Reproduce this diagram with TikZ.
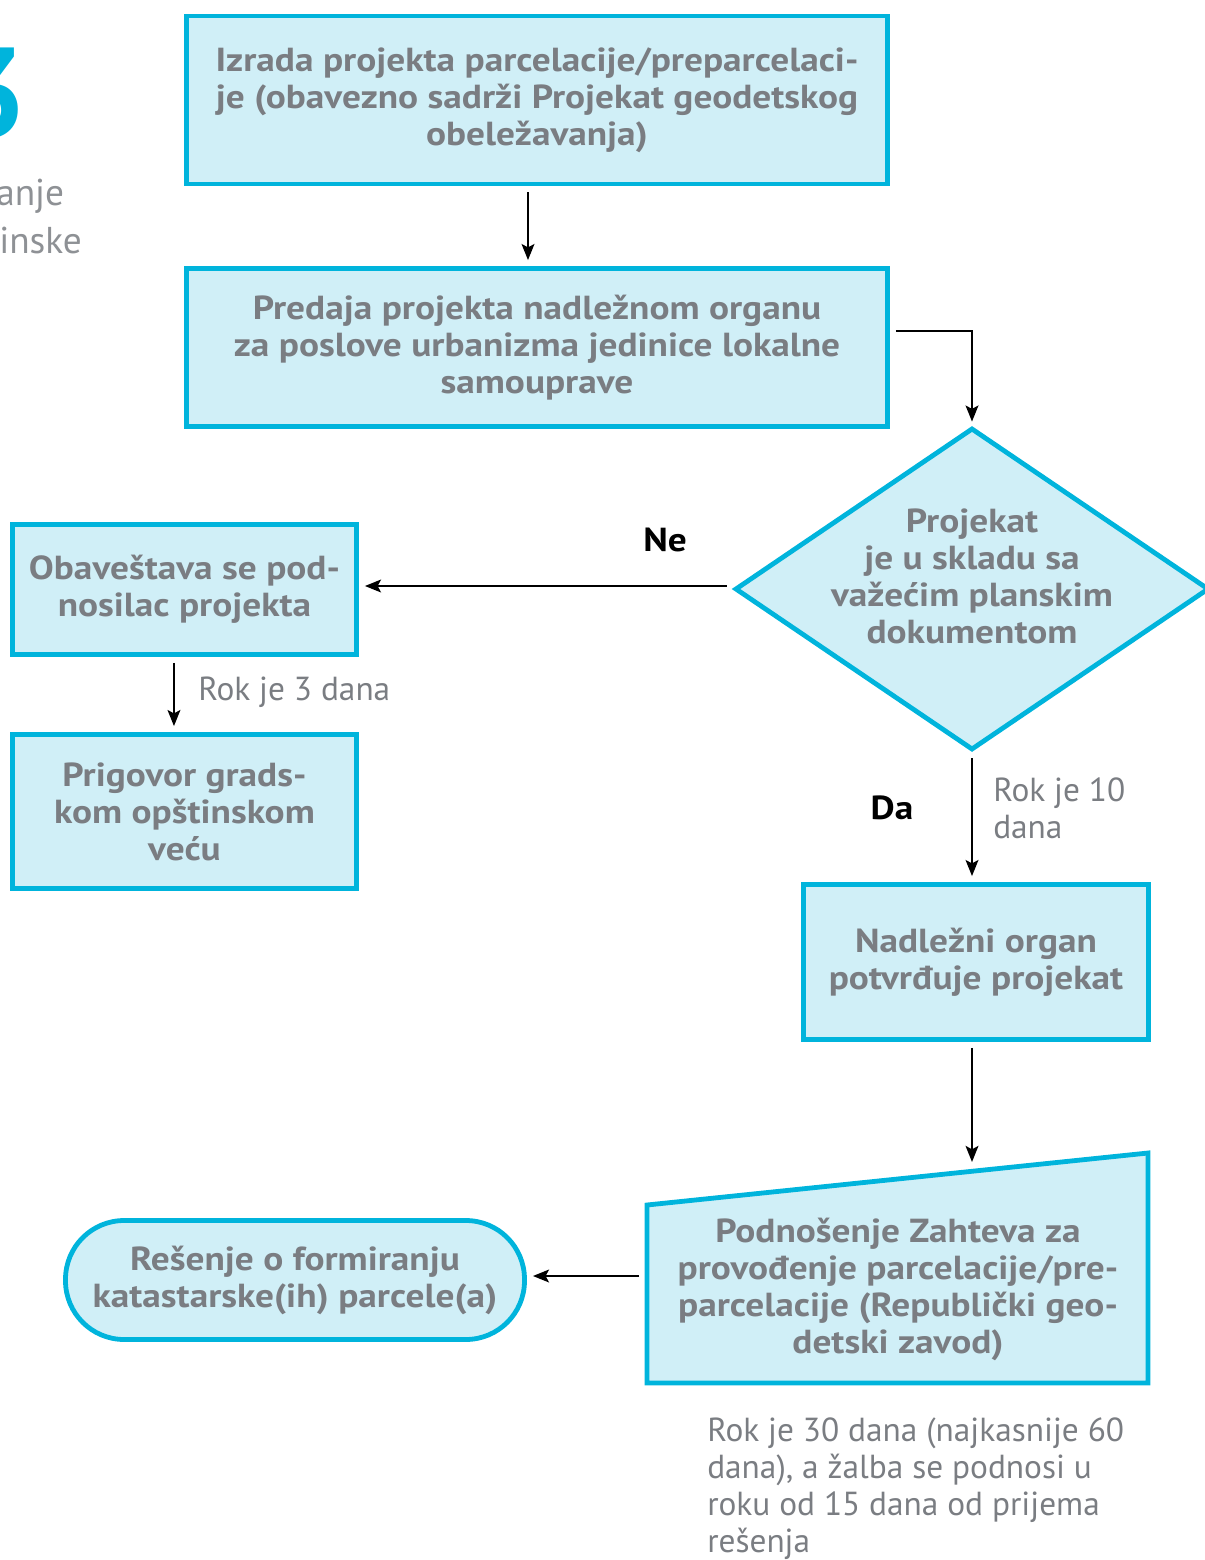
\documentclass[tikz,border=0pt]{standalone}
\usepackage{fontspec}
\setmainfont{PT Sans}
\newfontfamily\widesans{PT Sans}[FakeStretch=1.12]
\usetikzlibrary{shapes.geometric,arrows.meta}
\definecolor{flowcyan}{HTML}{00B4DC}
\definecolor{flowfill}{HTML}{D0EFF7}
\definecolor{flowtext}{HTML}{7A7D82}
\newcommand\boxfont{\widesans\bfseries\fontsize{25}{27.75}\selectfont}
\newcommand\notefont{\fontsize{25}{27.75}\selectfont}

\begin{document}
\begin{tikzpicture}[x=0.75pt,y=-0.75pt,
  every node/.style={inner sep=0pt},
  box/.style={draw=flowcyan, fill=flowfill, line width=3.6pt, text=flowtext,
    font=\boxfont, align=center},
  boxtext/.style={text=flowtext, font=\boxfont, align=center},
  note/.style={text=flowtext, font=\notefont, align=left},
  answer/.style={text=black, font=\boxfont},
  flow/.style={-{Stealth[length=12pt,width=9.5pt,inset=2.5pt]}, line width=2pt, black,
    shorten <=4.5pt, shorten >=4.5pt}]
\useasboundingbox (0,0) rectangle (1205,1560);

% partly visible heading at the left margin
\node[anchor=base east, text=flowcyan, font=\bfseries\fontsize{96}{96}\selectfont] (num) at (27,137) {3};
\node[anchor=base west, text=flowtext!85!white, font=\fontsize{28}{36}\selectfont] (hdA) at (-4,205) {anje};
\node[anchor=base west, text=flowtext!85!white, font=\fontsize{28}{36}\selectfont] (hdB) at (-1,253) {inske};

% process boxes
\node[box, minimum width=525.75pt, minimum height=126pt] (izrada) at (537,100)
  {Izrada projekta parcelacije/preparcelaci-\\je (obavezno sadrži Projekat geodetskog\\obeležavanja)};
\node[box, minimum width=525.75pt, minimum height=118.5pt] (predaja) at (537,347.5)
  {Predaja projekta nadležnom organu\\za poslove urbanizma jedinice lokalne\\samouprave};
\node[box, minimum width=258pt, minimum height=97.5pt] (obav) at (184.5,589.5)
  {Obaveštava se pod-\\nosilac projekta};
\node[box, minimum width=258pt, minimum height=115.5pt] (prigovor) at (184.5,811.5)
  {Prigovor grads-\\kom opštinskom\\veću};
\node[box, minimum width=258.75pt, minimum height=116.25pt] (potvrda) at (976,962)
  {Nadležni organ\\potvrđuje projekat};

% decision
\node[box, shape=diamond, minimum width=355.5pt, minimum height=241.5pt] (dia) at (972,589) {};
\node[boxtext] (diatext) at (972,576) {Projekat\\je u skladu sa\\važećim planskim\\dokumentom};

% manual input shaped request box
\draw[draw=flowcyan, fill=flowfill, line width=3.6pt, line join=miter]
  (647,1205) -- (1148,1153) -- (1148,1383) -- (647,1383) -- cycle;
\node[boxtext] (zahtev) at (898,1289)
  {Podnošenje Zahteva za\\provođenje parcelacije/pre-\\parcelacije (Republički geo-\\detski zavod)};
\coordinate (zahtevTop) at (972,1168);
\coordinate (zahtevW) at (645,1276);

% terminal
\node[box, rounded corners=44pt, minimum width=344.25pt, minimum height=89.25pt] (resenje) at (295,1280)
  {Rešenje o formiranju\\katastarske(ih) parcele(a)};

% connectors
\draw[flow] ([xshift=-6.75pt]izrada.south) -- ([xshift=-6.75pt]predaja.north);
\draw[flow, shorten >=3pt] ([yshift=12.4pt]predaja.east) -| (dia.north);
\draw[flow] ([yshift=2.25pt]dia.west) -- ([yshift=2.25pt]dia.west -| obav.east);
\draw[flow] ([xshift=-7.9pt]obav.south) -- ([xshift=-7.9pt]prigovor.north);
\draw[flow] (dia.south) -- (dia.south |- potvrda.north);
\draw[flow] (potvrda.south -| dia.south) -- (zahtevTop);
\draw[flow] (zahtevW) -- (zahtevW -| resenje.east);

% labels
\node[answer] (ne) at (665,540) {Ne};
\node[answer] (da) at (892,808) {Da};
\node[note, anchor=west] (rok3) at (198,692) {Rok je 3 dana};
\node[note, anchor=west] (rok10) at (993,808) {Rok je 10\\dana};
\node[note, anchor=west] (rok30) at (707,1488.5)
  {Rok je 30 dana (najkasnije 60\\dana), a žalba se podnosi u\\roku od 15 dana od prijema\\rešenja};
\end{tikzpicture}
\end{document}
